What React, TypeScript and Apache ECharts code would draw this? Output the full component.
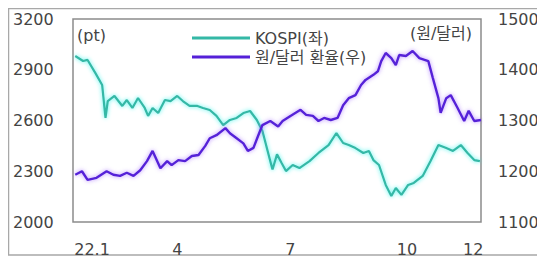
import React, { useEffect, useRef } from "react";
import * as echarts from "echarts";

// x = day of year 2022 (approximate)
const kospiDays = [2, 9, 13, 20, 26, 29, 31, 37, 44, 48, 53, 58, 64, 67, 71, 76, 82, 87, 93, 98, 104, 111, 116, 122, 128, 134, 140, 146, 152, 158, 164, 169, 176, 178, 182, 186, 190, 196, 202, 211, 219, 228, 235, 241, 246, 252, 259, 264, 268, 273, 279, 284, 288, 293, 299, 304, 312, 319, 326, 333, 339, 346, 352, 358, 363];
const kospiValues = [2981, 2952, 2958, 2880, 2810, 2615, 2715, 2745, 2686, 2721, 2674, 2733, 2674, 2627, 2674, 2644, 2721, 2715, 2745, 2715, 2686, 2686, 2674, 2662, 2627, 2573, 2603, 2615, 2644, 2656, 2603, 2538, 2360, 2310, 2400, 2350, 2301, 2337, 2319, 2360, 2408, 2455, 2526, 2467, 2455, 2437, 2408, 2420, 2366, 2337, 2219, 2154, 2201, 2160, 2219, 2231, 2272, 2360, 2455, 2437, 2420, 2455, 2408, 2366, 2360];

const fxDays = [2, 8, 13, 21, 30, 36, 42, 48, 54, 60, 66, 71, 78, 84, 88, 94, 100, 106, 112, 118, 122, 128, 136, 140, 146, 152, 156, 161, 165, 169, 176, 183, 187, 194, 203, 208, 214, 219, 224, 230, 236, 241, 246, 252, 257, 261, 268, 272, 275, 279, 284, 288, 291, 297, 303, 309, 317, 321, 326, 328, 333, 337, 343, 349, 353, 358, 364];
const fxValues = [1193, 1200, 1183, 1187, 1200, 1193, 1191, 1197, 1191, 1202, 1220, 1240, 1206, 1220, 1212, 1222, 1220, 1230, 1232, 1250, 1265, 1271, 1285, 1275, 1265, 1255, 1240, 1246, 1269, 1291, 1299, 1288, 1299, 1309, 1321, 1311, 1309, 1299, 1305, 1301, 1305, 1330, 1344, 1350, 1370, 1380, 1390, 1397, 1417, 1433, 1423, 1409, 1429, 1427, 1437, 1423, 1417, 1384, 1344, 1315, 1344, 1350, 1325, 1299, 1319, 1299, 1301];

const xTickDays = [17, 93, 194, 298, 357];
const xTickLabels = ["22.1", "4", "7", "10", "12"];

const seriesNames = ["KOSPI(좌)", "원/달러 환율(우)"];

const FONT = "'DejaVu Sans', 'Noto Sans CJK KR', sans-serif";

export default function App() {
  const ref = useRef<HTMLDivElement>(null);
  useEffect(() => {
    if (!ref.current) return;
    const chart = echarts.init(ref.current, undefined, { renderer: "svg" });
    const kospi = kospiDays.map((d, i) => [d, kospiValues[i]]);
    const fx = fxDays.map((d, i) => [d, fxValues[i]]);
    chart.setOption({
      animation: false,
      grid: {
        left: 65,
        top: 11,
        width: 408,
        height: 203,
        show: true,
        borderColor: "#8c8c8c",
        borderWidth: 1.5,
        backgroundColor: "transparent",
      },
      legend: {
        orient: "vertical",
        left: 179,
        top: 17,
        itemWidth: 58,
        itemHeight: 3,
        itemGap: 3,
        icon: "rect",
        data: seriesNames,
        textStyle: { fontFamily: FONT, fontSize: 16, color: "#444", lineHeight: 16 },
      },
      xAxis: {
        type: "value",
        min: 0,
        max: 364,
        axisLine: { show: false },
        axisTick: { show: false },
        splitLine: { show: false },
        axisLabel: {
          customValues: xTickDays,
          formatter: (v: number) => {
            const i = xTickDays.indexOf(Math.round(v));
            return i >= 0 ? xTickLabels[i] : "";
          },
          fontFamily: FONT,
          fontSize: 16,
          color: "#444",
          margin: 19,
        },
      },
      yAxis: [
        {
          type: "value",
          min: 2000,
          max: 3200,
          interval: 300,
          axisLine: { show: false },
          axisTick: { show: false },
          splitLine: { show: false },
          axisLabel: {
            fontFamily: FONT,
            fontSize: 16,
            color: "#444",
            align: "left",
            margin: 60,
            formatter: (v: number) => String(v),
          },
        },
        {
          type: "value",
          min: 1100,
          max: 1500,
          interval: 100,
          position: "right",
          axisLine: { show: false },
          axisTick: { show: false },
          splitLine: { show: false },
          axisLabel: {
            fontFamily: FONT,
            fontSize: 16,
            color: "#444",
            align: "left",
            margin: 17,
            formatter: (v: number) => String(v),
          },
        },
      ],
      graphic: [
        {
          type: "rect",
          shape: { x: 0.5, y: 0.5, width: 560, height: 246.5 },
          style: { fill: "none", stroke: "#a8a8a8", lineWidth: 1.5 },
          silent: true,
        },
        {
          type: "text",
          x: 69,
          y: 19,
          style: { text: "(pt)", fontFamily: FONT, fontSize: 16, fill: "#444" },
        },
        {
          type: "text",
          x: 402,
          y: 17,
          style: { text: "(원/달러)", fontFamily: FONT, fontSize: 16, fill: "#444" },
        },
      ],
      series: [
        {
          name: seriesNames[0],
          type: "line",
          yAxisIndex: 0,
          data: kospi,
          symbol: "none",
          lineStyle: {
            color: "#34b8a6",
            width: 2.2,
            shadowColor: "rgba(0,240,230,0.7)",
            shadowBlur: 4,
          },
          itemStyle: { color: "#34b8a6" },
        },
        {
          name: seriesNames[1],
          type: "line",
          yAxisIndex: 1,
          data: fx,
          symbol: "none",
          lineStyle: {
            color: "#5520d8",
            width: 2.4,
            shadowColor: "rgba(150,90,255,0.7)",
            shadowBlur: 4,
          },
          itemStyle: { color: "#5520d8" },
        },
      ],
    });
    return () => chart.dispose();
  }, []);
  return <div ref={ref} style={{ width: 537, height: 250 }} />;
}
